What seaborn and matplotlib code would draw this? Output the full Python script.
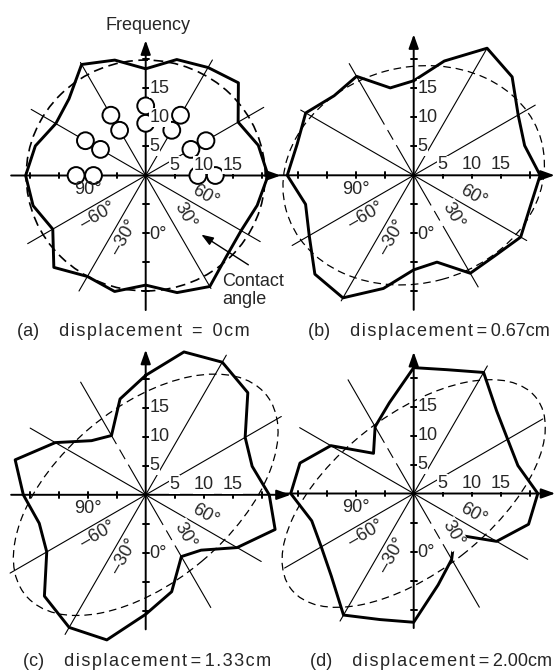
import numpy as np
import pandas as pd
import seaborn as sns
import matplotlib.pyplot as plt
from matplotlib.patches import Ellipse, Circle

# direction of every polygon corner, degrees clockwise from "up"
directions = list(range(0, 360, 15))

# frequency
freq_a = [18.4, 20.7, 21.5, 22.6, 18.4, 20.1, 21.1, 19.9, 19.0, 19.7, 22.1, 20.9,
          18.9, 20.7, 20.1, 22.4, 18.5, 20.1, 20.7, 19.7, 17.9, 18.7, 22.1, 20.6]
freq_b = [16.3, 20.4, 25.3, 24.0, 20.8, 19.8, 21.8, 20.8, 21.3, 19.7, 19.5, 15.5,
          16.3, 20.2, 24.4, 24.1, 20.8, 19.3, 21.8, 20.8, 21.5, 19.4, 19.7, 15.6]
freq_c = [20.6, 25.5, 26.4, 24.9, 19.8, 19.0, 21.3, 23.1, 18.2, 13.5, 12.3, 17.3,
          20.6, 25.9, 26.4, 24.7, 19.7, 19.0, 21.1, 23.3, 18.0, 13.2, 11.8, 17.1]
freq_d = [21.7, 22.1, 24.1, 20.2, 18.7, 18.6, 21.4, 20.5, 16.5, 10.0, 13.1, 16.3,
          22.2, 22.5, 24.2, 20.1, 18.4, 18.2, 21.2, 20.3, 16.5, 9.8, 13.3, 16.2]
freqs = [freq_a, freq_b, freq_c, freq_d]

panel_names = ['(a)', '(b)', '(c)', '(d)']
displacement = ['0cm', '0.67cm', '1.33cm', '2.00cm']

# dashed fitted ellipses: semi axes and tilt (deg, anticlockwise from horizontal)
ell_major = [20.6, 22.8, 27.0, 26.8]
ell_minor = [19.9, 18.6, 15.0, 13.5]
ell_tilt = [0, 15, 40, 38]

# thin guide lines through the centre and their half lengths in each panel
guide_dirs = [30, 60, 120, 150]
guide_len = [[23.0, 23.5, 22.8, 22.5],
             [25.0, 24.2, 22.5, 22.3],
             [27.8, 27.0, 23.0, 22.5],
             [25.4, 25.7, 22.7, 22.7]]

scale_ticks = [5, 10, 15]
tick_marks = [-20, -15, -10, -5, 5, 10, 15, 20]
axis_len = [23.3, 24.3, 25.0, 24.4]

# contact angle labels
angle_text = ['90°', '\u201360°', '\u201330°', '0°', '30°', '60°']
angle_xy = [(-10.0, -2.4), (-8.2, -6.9), (-3.7, -10.7), (2.2, -10.2), (6.8, -7.0), (10.3, -3.5)]
angle_rot = [0, 30, 60, 0, -60, -30]

# droplets sketched in panel (a)
drop_dirs = [270, 300, 330, 0, 30, 60, 90]
drop_dist = [9.0, 12.0]

sns.set_theme(style='white')
plt.rcParams['font.family'] = ['Liberation Sans', 'DejaVu Sans']
plt.rcParams['lines.scale_dashes'] = False

W, H = 557, 670
PX = 5.8          # pixels per frequency unit
PT = PX * 0.72    # points per frequency unit
HALF = 26
centres = [(145.7, 175.5), (413.7, 175.3), (145.7, 494.8), (413.7, 493.5)]
caption_xy = [(17, 332), (308, 332), (23, 662), (310, 662)]
# letter spacing of the captions (word "displacement", the value, around "=")
word_gap = ['\u200a', '\u200a', '\u200a', '\u200a']
value_gap = ['\u200a', '', '\u200a', '']
eq_gap = ['  ', '\u2009', '\u2009', '\u2009']
FS = 13

fig = plt.figure(figsize=(W / 100, H / 100), dpi=100)
chain = [6 * PT, 1.1 * PT, 1.9 * PT, 1.1 * PT, 40 * PT, 1]

for k, freq in enumerate(freqs):
    cx, cy = centres[k]
    size = 2 * HALF * PX
    ax = fig.add_axes([(cx - HALF * PX) / W, (H - cy - HALF * PX) / H, size / W, size / H])

    # rose polygon
    th = np.deg2rad(directions + directions[:1])
    r = np.array(freq + freq[:1])
    df = pd.DataFrame({'x': r * np.sin(th), 'y': r * np.cos(th)})
    sns.lineplot(data=df, x='x', y='y', sort=False, estimator=None, color='black',
                 lw=2.1, ax=ax, zorder=3.5)

    # guide lines
    for j, d in enumerate(guide_dirs):
        L = guide_len[k][j]
        ux, uy = np.sin(np.deg2rad(d)), np.cos(np.deg2rad(d))
        if d == 150 and k > 0:
            for s in (1, -1):
                ax.plot([0, s * L * ux], [0, s * L * uy], color='black', lw=0.8,
                        dashes=chain, zorder=1)
        else:
            ax.plot([-L * ux, L * ux], [-L * uy, L * uy], color='black', lw=0.8, zorder=1)

    # fitted ellipse
    if k == 0:
        ls, lw = (0, (7, 4)), 1.2
    else:
        ls, lw = (0, (5.5, 3.5)), 0.9
    ax.add_patch(Ellipse((0, 0), 2 * ell_major[k], 2 * ell_minor[k], angle=ell_tilt[k],
                         fill=False, ec='black', lw=lw, ls=ls, zorder=2))

    # axes with arrows
    A = axis_len[k]
    arrow = dict(arrowstyle='-|>,head_length=0.7,head_width=0.25', color='black', lw=1.4,
                 shrinkA=0, shrinkB=0, mutation_scale=12)
    ax.annotate('', xy=(A, 0), xytext=(-23.2, 0), arrowprops=arrow, zorder=3)
    ax.annotate('', xy=(0, A), xytext=(0, -23.2), arrowprops=arrow, zorder=3)
    for t in tick_marks:
        ax.plot([t, t], [-0.5, 0.5], color='black', lw=1.4, zorder=3)
        ax.plot([-0.5, 0.5], [t, t], color='black', lw=1.4, zorder=3)

    if k == 0:
        for d in drop_dirs:
            for rr in drop_dist:
                ax.add_patch(Circle((rr * np.sin(np.deg2rad(d)), rr * np.cos(np.deg2rad(d))),
                                    1.45, fc='white', ec='black', lw=1.4, zorder=4))

    box = dict(facecolor='white', edgecolor='none', pad=0.5)
    for t in scale_ticks:
        ax.text(0.7, t, str(t), ha='left', va='center', fontsize=FS, bbox=box, zorder=5)
        ax.text(t, 1.8, str(t), ha='center', va='center', fontsize=FS, bbox=box, zorder=5)

    for txt, (x, y), rot in zip(angle_text, angle_xy, angle_rot):
        kw = {}
        if txt == '30°' and k > 0:
            kw['bbox'] = dict(facecolor='white', edgecolor='none', pad=1.0)
        ax.text(x, y, txt, rotation=rot, rotation_mode='anchor', ha='center', va='center',
                fontsize=FS, zorder=5, **kw)

    if k == 0:
        ax.text(0.4, 25.9, 'Frequency', ha='center', va='center', fontsize=FS)
        ax.text(13.2, -19.8, 'Contact\nangle', ha='left', va='center', fontsize=FS,
                linespacing=1.05)
        ax.annotate('', xy=(9.6, -10.2), xytext=(17.7, -15.4),
                    arrowprops=dict(arrowstyle='-|>,head_length=0.6,head_width=0.22',
                                    color='black', lw=1.0, shrinkA=0, shrinkB=0,
                                    mutation_scale=12))

    ax.set_xlim(-HALF, HALF)
    ax.set_ylim(-HALF, HALF)
    ax.set_axis_off()

    x0, y0 = caption_xy[k]
    word = word_gap[k].join('displacement')
    value = value_gap[k].join(displacement[k])
    fig.text(x0 / W, 1 - y0 / H, f'{panel_names[k]}    {word}{eq_gap[k]}={eq_gap[k]}{value}',
             ha='left', va='center', fontsize=FS)

fig.savefig('out.png', dpi=100)
